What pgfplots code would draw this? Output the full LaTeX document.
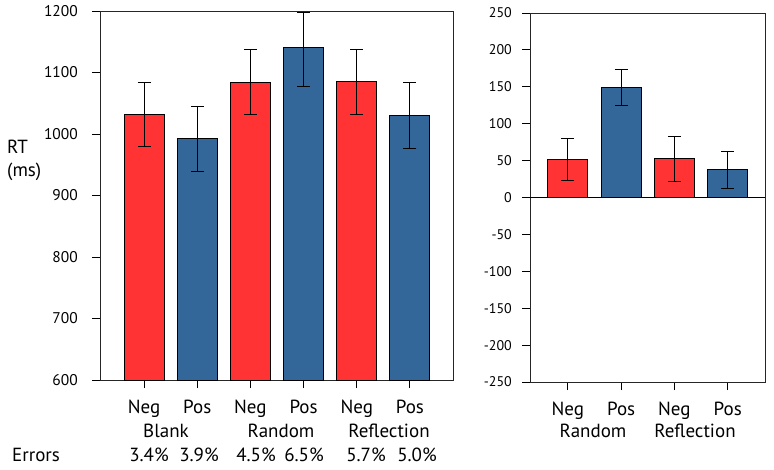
\documentclass[border=0pt]{standalone}
\usepackage{fontspec}
\setmainfont{PT Sans}
\usepackage{pgfplots}
\pgfplotsset{compat=1.18}
\definecolor{barred}{RGB}{255,51,51}
\definecolor{barblue}{RGB}{51,102,153}
\pgfplotsset{
  myax/.style={
    scale only axis,
    tick align=outside,
    major tick length=8pt,
    xtick pos=bottom, ytick pos=left,
    axis line style={black!85, line width=1pt},
    tick style={black, line width=1pt},
    /pgf/number format/assume math mode=true,
    /pgf/number format/1000 sep={},
    xticklabel style={font=\fontsize{19}{20}\selectfont, anchor=base, yshift=-25pt},
  },
  mybar/.style={ybar, bar shift=0pt, bar width=40pt, draw=black, line width=0.9pt,
    error bars/.cd, y dir=both, y explicit,
    error bar style={black, line width=0.9pt},
    error mark options={black, rotate=90, mark size=6.5pt, line width=0.9pt},
    /pgfplots/.cd},
}
\begin{document}
\begin{tikzpicture}[x=1pt,y=1pt]
\path[use as bounding box] (0,0) rectangle (774,469);
\begin{axis}[myax,
  at={(100pt,89pt)}, anchor=south west,
  width=354pt, height=369pt,
  xmin=-0.83, xmax=5.83, ymin=600, ymax=1200,
  ytick={600,700,...,1200},
  yticklabel style={font=\fontsize{15.5}{16}\selectfont, anchor=east, inner sep=0pt, xshift=-14pt},
  xtick={0,1,2,3,4,5}, xticklabels={Neg,Pos,Neg,Pos,Neg,Pos},
]
\addplot[mybar, fill=barred] coordinates {
  (0,1032) +- (0,52)
  (2,1084) +- (0,53)
  (4,1085) +- (0,53)
};
\addplot[mybar, fill=barblue] coordinates {
  (1,992) +- (0,53)
  (3,1141) += (0,57) -= (0,64)
  (5,1030) +- (0,54)
};
\end{axis}
\begin{axis}[myax,
  at={(530pt,87pt)}, anchor=south west,
  width=235pt, height=369pt,
  xmin=-0.71, xmax=3.7, ymin=-250, ymax=250,
  ytick={-250,-200,...,250},
  yticklabel style={font=\fontsize{14}{15}\selectfont, anchor=east, inner sep=0pt, xshift=-10pt},
  xtick={0,1,2,3}, xticklabels={Neg,Pos,Neg,Pos},
]
\addplot[black, line width=0.8pt] coordinates {(-1,0) (4,0)};
\addplot[mybar, fill=barred] coordinates {
  (0,51.5) +- (0,28)
  (2,52.5) +- (0,30.5)
};
\addplot[mybar, fill=barblue] coordinates {
  (1,149) +- (0,24)
  (3,37.7) +- (0,25)
};
\end{axis}
\begin{scope}[every node/.style={font=\fontsize{19}{20}\selectfont, inner sep=0pt}]
\node[anchor=base west] at (7,315) {RT};
\node[anchor=base west] at (7,292) {(ms)};
\node[anchor=base] at (166,32) {Blank};
\node[anchor=base] at (281,32) {Random};
\node[anchor=base] at (389,32) {Reflection};
\node[anchor=base] at (593,32) {Random};
\node[anchor=base] at (695,32) {Reflection};
\node[anchor=base west] at (12,8) {Errors};
\node[anchor=base] at (149,8) {3.4\%};
\node[anchor=base] at (199,8) {3.9\%};
\node[anchor=base] at (256,8) {4.5\%};
\node[anchor=base] at (304,8) {6.5\%};
\node[anchor=base] at (366,8) {5.7\%};
\node[anchor=base] at (417,8) {5.0\%};
\end{scope}
\end{tikzpicture}
\end{document}
